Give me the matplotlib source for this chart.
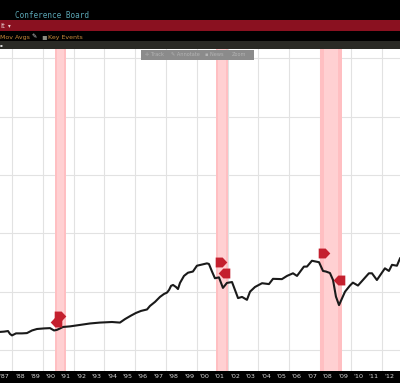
import matplotlib
matplotlib.use("Agg")
import matplotlib.pyplot as plt
from matplotlib.patches import Rectangle

# index
years = [1987.22, 1987.48, 1987.74, 1987.87, 1988.00, 1988.26, 1988.65, 1988.97, 1989.30, 1989.62,
         1990.08, 1990.47, 1990.73, 1990.92, 1991.12, 1991.31, 1991.77, 1992.16, 1992.55, 1993.07,
         1993.71, 1994.49, 1995.01, 1995.34, 1995.73, 1996.05, 1996.38, 1996.77, 1996.96, 1997.29,
         1997.61, 1997.87, 1998.07, 1998.20, 1998.33, 1998.46, 1998.65, 1998.78, 1998.91, 1999.17,
         1999.43, 1999.75, 2000.01, 2000.34, 2000.66, 2000.79, 2000.99, 2001.18, 2001.44, 2001.70,
         2001.96, 2002.29, 2002.68, 2002.94, 2003.26, 2003.46, 2003.78, 2004.24, 2004.69, 2004.95,
         2005.53, 2005.86, 2006.25, 2006.51, 2006.96, 2007.16, 2007.48, 2007.94, 2008.20, 2008.39,
         2008.65, 2008.85, 2009.04, 2009.24, 2009.63, 2009.95, 2010.14, 2010.47, 2011.18, 2011.38,
         2011.70, 2012.22, 2012.48, 2012.68, 2013.00, 2013.20]
values = [66.2, 66.3, 66.5, 65.5, 65.0, 65.7, 65.7, 65.8, 66.7, 67.2,
          67.4, 67.5, 66.7, 66.9, 67.4, 67.9, 68.1, 68.4, 68.7, 69.1,
          69.4, 69.6, 69.4, 70.6, 71.8, 72.7, 73.4, 73.9, 75.1, 76.5,
          78.2, 79.2, 79.7, 80.6, 82.0, 82.3, 81.6, 80.9, 83.0, 85.4,
          86.5, 86.9, 88.9, 89.3, 89.7, 89.5, 86.9, 84.6, 84.9, 81.3,
          83.0, 83.3, 77.8, 78.2, 77.2, 80.0, 81.6, 82.9, 82.6, 84.4,
          84.3, 85.4, 86.3, 85.4, 88.6, 88.6, 90.6, 90.1, 87.1, 86.9,
          86.4, 84.0, 78.3, 75.4, 80.0, 82.1, 83.1, 82.1, 86.3, 86.3,
          84.0, 88.0, 87.1, 89.2, 88.9, 91.4]

band_starts = [1990.76, 2001.25, 2008.00]
band_ends = [1991.51, 2002.03, 2009.43]

peak_years = [1991.12, 2001.55, 2008.26]
peak_values = [71.7, 90.2, 93.3]
trough_years = [1990.86, 2001.75, 2009.21]
trough_values = [69.6, 86.4, 84.0]

year_labels = ["'87", "'88", "'89", "'90", "'91", "'92", "'93", "'94", "'95", "'96", "'97", "'98", "'99",
               "'00", "'01", "'02", "'03", "'04", "'05", "'06", "'07", "'08", "'09", "'10", "'11", "'12"]
label_years = list(range(1987, 2013))
grid_years = list(range(1988, 2014, 2))
grid_values = [60, 80, 100, 120, 140, 160]

W, H = 400, 383


def bar(fig, x0, y0, x1, y1, color):
    # pixel box measured from the top left
    fig.add_artist(Rectangle((x0 / W, 1 - y1 / H), (x1 - x0) / W, (y1 - y0) / H,
                             transform=fig.transFigure, facecolor=color, edgecolor="none"))


def label(fig, x, y, s, color, size, **kw):
    fig.text(x / W, 1 - y / H, s, color=color, fontsize=size, va="center", **kw)


fig = plt.figure(figsize=(W / 100, H / 100), dpi=100, facecolor="black")
ax = fig.add_axes([0, 12 / H, 1, 322 / H], facecolor="white")

ax.set_xticks(grid_years, minor=True)
ax.set_yticks(grid_values)
ax.set_yticklabels([])
ax.grid(True, which="minor", axis="x", color="#e2e2e2", lw=0.8, zorder=1)
ax.grid(True, which="major", axis="y", color="#e2e2e2", lw=0.8, zorder=1)
ax.set_axisbelow(True)
ax.tick_params(axis="both", which="both", length=0)

# bands are darker at the rim, paler in the middle
for start, end in zip(band_starts, band_ends):
    ax.axvspan(start, end, color="#ffbfc2", lw=0, zorder=1.5)
    rim = (end - start) * 0.2
    ax.axvspan(start + rim, end - rim, color="#ffd0d2", lw=0, zorder=1.6)

ax.plot(years, values, color="#1a1a1a", lw=1.5, zorder=3)

# flags pointing right at the peaks, left at the troughs
right_flag = [(-1, -0.85), (0.2, -0.85), (1, 0), (0.2, 0.85), (-1, 0.85), (-1, -0.85)]
left_flag = [(1, -0.85), (-0.2, -0.85), (-1, 0), (-0.2, 0.85), (1, 0.85), (1, -0.85)]
ax.scatter(peak_years, peak_values, marker=right_flag, s=70, color="#c4202e", lw=0, zorder=4)
ax.scatter(trough_years, trough_values, marker=left_flag, s=70, color="#c4202e", lw=0, zorder=4)

ax.set_xlim(1987.22, 2013.2)
ax.set_ylim(52.8, 163.2)
ax.set_xticks([y + 0.5 for y in label_years])
ax.set_xticklabels(year_labels, color="#d8d8d8", fontsize=4.6)
ax.tick_params(axis="x", which="major", pad=2.5)
for side in ax.spines.values():
    side.set_visible(False)

# terminal header
bar(fig, 0, 20, W, 31, "#8a1120")
bar(fig, 0, 41, W, 49, "#2a2a25")
label(fig, 15, 16, "Conference Board", "#5aa6b4", 5.5, family="DejaVu Sans Mono")
label(fig, 0, 25.5, "it", "#e8d0d0", 5.2)
label(fig, 8, 25.5, "▾", "#e8d0d0", 4)
label(fig, 0, 37, "Mov Avgs", "#c98a3a", 4.5)
label(fig, 31, 37, "✎", "#d8d8d8", 4.5)
label(fig, 41, 37, "▪", "#8c8c80", 6)
label(fig, 48.5, 37, "Key Events", "#c98a3a", 4.5)
label(fig, 0, 45, "▪", "#d8d8d8", 3)

# zoom toolbar floating over the plot
bar(fig, 141, 50, 254, 59.5, "#8b8b8b")
for x, s in zip([145, 171, 205, 232], ["✛ Track", "✎ Annotate", "▪ News", "Zoom"]):
    label(fig, x, 54.5, s, "#b4b4b4", 3.6)

fig.savefig("out.png", dpi=100, facecolor="black")
